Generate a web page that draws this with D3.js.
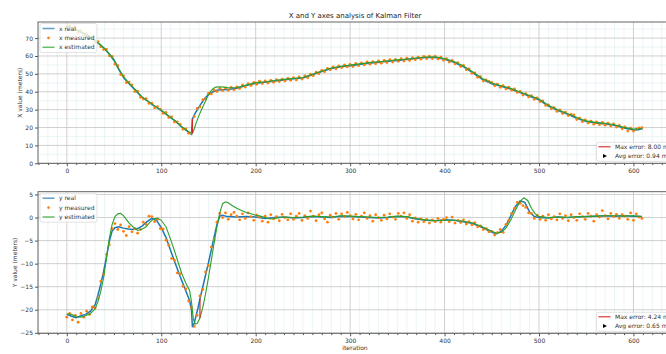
<!DOCTYPE html>
<html>
<head>
<meta charset="utf-8">
<script src="https://cdn.jsdelivr.net/npm/d3@7"></script>
<style>
  body { margin: 0; background: #fff; }
  svg { font-family: "DejaVu Sans", sans-serif; }
</style>
</head>
<body>
<div id="chart"></div>
<script>
// ---- data ----
const titleText = 'X and Y axes analysis of Kalman Filter';
const xTicks = [0, 100, 200, 300, 400, 500, 600];
const topTicks = [0, 10, 20, 30, 40, 50, 60, 70];
const bottomTicks = [-25, -20, -15, -10, -5, 0, 5];

// measured samples, one every 3 iterations
const measIter = d3.range(0, 610, 3);
const xMeas = [76.4, 77.0, 75.1, 75.6, 73.2, 74.1, 71.8, 72.3, 69.9, 70.4, 67.6, 68.0, 65.2, 63.6, 63.7, 60.1, 59.8, 55.4, 54.6, 49.6,
  48.9, 45.1, 45.4, 43.9, 40.1, 40.3, 36.9, 36.0, 36.2, 33.5, 33.6, 31.0, 31.7, 30.2, 27.9, 28.4, 25.6, 26.0, 23.1, 23.2,
  21.8, 19.1, 19.2, 16.8, 16.9, 26.1, 30.7, 31.6, 35.6, 36.0, 39.1, 38.8, 40.9, 40.1, 41.9, 40.6, 42.0, 40.8, 42.5, 41.1,
  42.7, 41.8, 43.8, 42.6, 44.5, 43.5, 45.3, 44.2, 45.9, 44.6, 46.0, 44.9, 46.4, 45.3, 46.8, 45.7, 47.1, 46.0, 47.5, 46.4,
  47.9, 46.6, 48.3, 47.1, 48.9, 47.9, 49.8, 49.0, 50.9, 50.1, 52.0, 51.2, 53.0, 52.3, 53.9, 52.8, 54.5, 53.5, 55.0, 53.9,
  55.3, 54.1, 55.8, 54.6, 56.2, 55.0, 56.7, 55.4, 56.9, 55.7, 57.3, 56.0, 57.5, 56.3, 57.9, 56.6, 58.1, 57.0, 58.5, 57.2,
  58.8, 57.5, 59.1, 57.9, 59.4, 58.2, 59.8, 58.5, 59.9, 58.6, 59.9, 58.3, 59.3, 57.6, 58.5, 56.6, 57.5, 55.6, 56.3, 54.1,
  54.7, 52.3, 52.8, 50.3, 50.6, 48.1, 48.4, 46.0, 46.6, 45.8, 45.2, 43.3, 44.3, 42.5, 43.4, 41.6, 42.6, 40.9, 41.6, 39.6,
  40.2, 38.2, 39.0, 37.1, 37.8, 35.8, 36.6, 34.5, 34.9, 32.4, 32.7, 30.5, 31.1, 29.0, 29.8, 27.8, 28.6, 26.7, 27.3, 27.1,
  24.5, 25.3, 23.3, 24.2, 22.5, 23.6, 21.9, 23.1, 21.6, 22.8, 21.3, 22.5, 20.8, 22.0, 20.3, 21.2, 19.3, 20.3, 18.0, 19.6,
  18.0, 19.2, 19.8, 20.0];
const yMeas = [-21.6, -20.8, -22.2, -21.2, -22.7, -20.8, -21.6, -20.3, -21.0, -19.4, -19.6, -17.5, -13.8, -12.3, -8.0, -5.9, -2.4, -1.3, -2.6, -1.6,
  -3.0, -3.9, -2.0, -3.1, -2.4, -3.4, -2.6, -1.0, -1.5, 0.3, 0.2, -0.9, -0.4, -2.4, -2.5, -4.9, -6.0, -8.9, -9.3, -12.0,
  -12.2, -14.9, -15.5, -18.1, -19.5, -23.6, -21.2, -17.0, -15.6, -11.8, -10.4, -6.4, -4.8, -1.0, 0.9, 0.0, 1.0, -0.4, 0.6, 1.1,
  0.3, -0.5, 0.8, -0.2, 1.0, 0.2, -0.6, 0.5, 0.1, -0.8, 0.3, -1.0, 0.6, -0.3, 0.2, -0.7, 0.7, 0.0, -0.5, 0.8,
  -0.4, 0.3, 0.9, -0.6, 0.4, -0.2, 1.4, 0.3, -0.7, 0.6, 1.0, -0.3, -1.0, 0.5, 0.1, 0.9, -0.4, 0.8, 0.2, 1.1,
  0.4, -0.3, 0.7, -0.5, 0.3, 1.0, -0.2, 0.4, -0.8, 0.6, 0.0, -0.6, 0.5, -0.3, 0.8, 0.1, -0.4, 0.9, 0.3, 1.0,
  -0.2, 0.6, -0.8, -0.1, -1.0, -0.3, -0.9, -0.4, -1.2, -0.5, -0.9, -0.2, -1.0, -0.4, 0.0, -0.9, 0.1, -1.2, -0.6, -1.1,
  -0.5, -1.4, -0.9, -1.6, -1.1, -2.0, -1.8, -2.6, -2.4, -3.1, -3.0, -3.8, -3.3, -2.6, -3.2, -1.5, -0.6, 0.9, 2.0, 3.3,
  3.1, 2.6, 2.2, 1.0, 0.9, -0.2, 0.5, -0.4, 0.3, -0.6, 0.6, -0.3, 0.2, -0.5, 0.8, -0.2, 0.4, -0.7, 0.6, 0.0,
  -0.6, 0.8, 0.2, -0.4, 0.9, 0.3, -0.8, 0.6, 0.1, 1.5, 0.4, -0.3, 0.9, 0.2, 0.7, -0.2, 0.6, 0.3, -0.4, 1.0,
  -0.6, 0.8, 0.1, -0.2];

// real trajectory (key points)
const xRealIter = [0, 10, 20, 30, 35, 40, 45, 50, 55, 60, 65, 70, 75, 80, 85, 90, 95, 100, 105, 110, 115, 120, 125, 130, 132, 133, 136, 140, 145, 150,
  155, 160, 170, 180, 190, 200, 210, 220, 230, 240, 250, 260, 270, 280, 290, 300, 310, 320, 330, 340, 350, 360, 370, 380, 390, 400, 410, 420, 430, 440,
  450, 460, 470, 480, 490, 500, 510, 520, 530, 540, 550, 560, 570, 580, 590, 600, 605, 610];
const xReal = [77, 74.5, 72, 68.5, 66.5, 64, 61, 57.5, 52.5, 48, 45, 42.3, 39.5, 36.7, 35, 33, 31.2, 29.5, 27.5, 25.5, 23.5, 21, 19, 17, 16.2, 24.8, 28, 31.5, 35.5, 38.5,
  40, 41, 41.3, 42, 43.5, 44.8, 45.3, 46, 46.6, 47.2, 47.7, 49.5, 51.3, 53, 54, 54.6, 55.3, 56, 56.5, 57, 57.5, 58, 58.6, 59.1, 59.2, 58.2, 56.5, 54, 50.6, 47,
  44.5, 43, 41.5, 39.5, 37.5, 35.5, 32, 29.5, 27.5, 25.2, 23.3, 22.5, 22, 21.2, 19.7, 18.6, 18.8, 19.5];
const yRealIter = [0, 5, 10, 15, 20, 25, 30, 33, 36, 39, 42, 45, 48, 51, 55, 60, 65, 70, 75, 80, 85, 90, 95, 100, 105, 110, 115, 120, 125, 130,
  132, 133, 135, 137, 139, 141, 144, 147, 150, 153, 156, 159, 162, 165, 170, 180, 190, 200, 210, 220, 230, 240, 250, 260, 270, 280, 290, 300, 310, 320,
  330, 340, 350, 360, 370, 380, 390, 400, 410, 420, 430, 440, 450, 455, 460, 465, 470, 475, 480, 485, 490, 495, 500, 510, 520, 530, 540, 550, 560, 570,
  580, 590, 600, 609];
const yReal = [-21.0, -21.4, -21.7, -21.3, -21.0, -20.3, -18.9, -16.8, -14.4, -11.7, -8.5, -5.2, -2.9, -2.2, -2.0, -2.3, -2.5, -2.6, -2.4, -1.8, -0.9, -0.2, -0.6, -2.2, -4.3, -7.2, -10.0, -12.8, -15.4, -18.0,
  -20.0, -23.8, -22.8, -21.2, -19.5, -17.6, -15.0, -12.4, -9.8, -7.0, -4.2, -1.5, 0.3, 0.5, 0.2, 0.1, 0.2, 0.1, -0.2, 0.0, 0.1, -0.1, 0.0, 0.2, 0.1, 0.0, 0.3, 0.2, 0.1, 0.0,
  -0.1, 0.0, 0.2, 0.1, -0.3, -0.6, -0.7, -0.5, -0.6, -0.9, -1.3, -2.2, -3.2, -3.5, -3.0, -1.7, 0.3, 2.4, 3.6, 3.3, 1.2, 0.2, 0.0, -0.1, 0.1, 0.0, 0.1, 0.2, 0.3, 0.4,
  0.3, 0.4, 0.3, 0.2];

// filter estimate (key points)
const xEstIter = [0, 10, 20, 30, 40, 45, 50, 55, 60, 65, 70, 75, 80, 85, 90, 95, 100, 105, 110, 115, 120, 125, 130, 133, 135, 137, 140, 143, 146, 149,
  152, 155, 158, 162, 166, 170, 175, 180, 190, 200, 210, 220, 230, 240, 250, 260, 270, 280, 290, 300, 310, 320, 330, 340, 350, 360, 370, 380, 390, 400,
  410, 420, 430, 440, 450, 460, 470, 480, 490, 500, 510, 520, 530, 540, 550, 560, 570, 580, 590, 600, 605, 609];
const xEst = [77, 74.6, 72.2, 68.8, 64.2, 61.3, 58, 53, 48.5, 45.3, 42.6, 39.8, 37, 35.2, 33.2, 31.4, 29.7, 27.7, 25.7, 23.7, 21.2, 19.2, 17.3, 16.8, 19.3, 22.6, 26.8, 30.4, 33.8, 37.2,
  40.1, 41.8, 42.6, 42.8, 42.6, 42.3, 42.2, 42.4, 43.7, 45.1, 45.6, 46.3, 46.9, 47.5, 48, 49.8, 51.6, 53.3, 54.3, 54.9, 55.6, 56.3, 56.8, 57.3, 57.8, 58.3, 58.9, 59.4, 59.5, 58.6,
  56.9, 54.4, 51, 47.4, 44.9, 43.4, 41.9, 39.9, 37.9, 35.9, 32.5, 30, 27.9, 25.6, 23.7, 22.9, 22.4, 21.6, 20.1, 19.1, 19.1, 19.6];
const yEstIter = [0, 5, 10, 15, 20, 25, 30, 33, 36, 39, 42, 45, 48, 51, 54, 57, 60, 63, 66, 70, 75, 80, 84, 88, 92, 96, 100, 105, 110, 114,
  118, 122, 126, 130, 132, 134, 136, 138, 141, 144, 147, 150, 153, 156, 159, 162, 165, 168, 171, 175, 180, 185, 190, 195, 200, 205, 210, 215, 220, 230,
  240, 250, 260, 270, 280, 290, 300, 310, 320, 330, 340, 350, 360, 370, 380, 390, 400, 410, 420, 430, 440, 450, 455, 460, 465, 470, 475, 480, 484, 488,
  492, 496, 500, 510, 520, 530, 540, 550, 560, 570, 580, 590, 600, 609];
const yEst = [-20.9, -21.0, -21.5, -21.6, -21.3, -20.8, -19.8, -18.2, -16.0, -13.0, -8.8, -4.5, -1.5, 0.2, 0.8, 0.9, 0.4, -0.4, -1.2, -2.0, -2.8, -2.5, -2.0, -1.0, -0.3, -0.1, -0.6, -2.0, -4.8, -7.2,
  -9.8, -12.3, -14.2, -15.8, -18.3, -22.0, -23.1, -23.0, -21.8, -19.5, -16.5, -13.0, -9.3, -5.5, -2.0, 1.0, 3.0, 3.4, 3.2, 2.6, 2.0, 1.5, 1.1, 0.8, 0.5, 0.3, 0.0, -0.3, -0.2, 0.1,
  0.0, 0.1, 0.3, 0.2, 0.1, 0.4, 0.3, 0.2, 0.1, 0.0, 0.1, 0.3, 0.2, -0.2, -0.5, -0.7, -0.6, -0.6, -0.8, -1.2, -2.0, -3.0, -3.4, -3.2, -2.3, -0.6, 1.6, 3.5, 4.3, 3.7,
  2.0, 0.8, 0.2, 0.0, 0.1, 0.0, 0.2, 0.2, 0.3, 0.4, 0.4, 0.3, 0.4, 0.2];

// worst error segment and summary
const xMaxErr = { iter: 133, from: 16.8, to: 24.8 };
const yMaxErr = { iter: 141, from: -21.8, to: -17.6 };
const xErrLabels = ['Max error: 8.00 m', 'Avg error: 0.94 m'];
const yErrLabels = ['Max error: 4.24 m', 'Avg error: 0.65 m'];

// ---- drawing ----
const W = 666, H = 354;
const fs = 6;
const c = { real: '#1f77b4', meas: '#ff7f0e', est: '#2ca02c', err: '#d62728' };

const svg = d3.select('#chart').append('svg')
  .attr('width', W).attr('height', H);

const x = d3.scaleLinear().domain([-30.5, 640.5]).range([38, 671.7]);
const minorX = d3.range(-30, 641, 10).filter(v => v % 100 !== 0);

svg.append('text')
  .attr('x', 355).attr('y', 17.5)
  .attr('text-anchor', 'middle')
  .attr('font-size', 7).attr('fill', '#222')
  .text(titleText);

function panel(o) {
  const y = d3.scaleLinear().domain(o.domain).range([o.bottom, o.top]);
  const g = svg.append('g');

  // minor grid
  g.selectAll('.mgx').data(minorX)
    .join('line')
    .attr('x1', d => x(d)).attr('x2', d => x(d))
    .attr('y1', o.top).attr('y2', o.bottom)
    .attr('stroke', '#ddeff0').attr('stroke-width', 0.6);
  if (o.minorY) {
    g.selectAll('.mgy').data(o.minorY)
      .join('line')
      .attr('x1', 38).attr('x2', W)
      .attr('y1', d => y(d)).attr('y2', d => y(d))
      .attr('stroke', '#ddeff0').attr('stroke-width', 0.6);
  }
  // major grid
  g.selectAll('.gx').data(xTicks).join('line')
    .attr('x1', d => x(d)).attr('x2', d => x(d))
    .attr('y1', o.top).attr('y2', o.bottom)
    .attr('stroke', '#c4c4c4').attr('stroke-width', 0.8);
  g.selectAll('.gy').data(o.ticks).join('line')
    .attr('x1', 38).attr('x2', W)
    .attr('y1', d => y(d)).attr('y2', d => y(d))
    .attr('stroke', '#c4c4c4').attr('stroke-width', 0.8);

  // series
  const line = (xs, ys) => d3.line().x((d, i) => x(xs[i])).y(d => y(d))(ys);
  g.append('path').attr('d', line(o.realIter, o.real))
    .attr('fill', 'none').attr('stroke', c.real).attr('stroke-width', 1.5);
  g.selectAll('.m').data(o.meas).join('circle')
    .attr('cx', (d, i) => x(measIter[i])).attr('cy', d => y(d))
    .attr('r', 1.4).attr('fill', c.meas);
  g.append('path').attr('d', line(o.estIter, o.est))
    .attr('fill', 'none').attr('stroke', c.est).attr('stroke-width', 1.1);
  g.append('line')
    .attr('x1', x(o.maxErr.iter)).attr('x2', x(o.maxErr.iter))
    .attr('y1', y(o.maxErr.from)).attr('y2', y(o.maxErr.to))
    .attr('stroke', c.err).attr('stroke-width', 1.2);

  // frame
  g.append('rect')
    .attr('x', 38).attr('y', o.top).attr('width', 671.7 - 38).attr('height', o.bottom - o.top)
    .attr('fill', 'none').attr('stroke', '#555').attr('stroke-width', 0.9);

  // axes
  const ax = g.append('g').attr('transform', `translate(0,${o.bottom})`)
    .call(d3.axisBottom(x).tickValues(xTicks).tickSize(3).tickPadding(2));
  g.append('g').attr('transform', `translate(0,${o.bottom})`)
    .call(d3.axisBottom(x).tickValues(minorX).tickSize(1.8).tickFormat(''))
    .call(s => s.select('.domain').remove())
    .selectAll('line').attr('stroke', '#555');
  const ay = g.append('g').attr('transform', 'translate(38,0)')
    .call(d3.axisLeft(y).tickValues(o.ticks).tickSize(3).tickPadding(2).tickFormat(d => d < 0 ? '\u2212' + Math.abs(d) : d));
  [ax, ay].forEach(a => {
    a.select('.domain').remove();
    a.selectAll('line').attr('stroke', '#555');
    a.selectAll('text').attr('font-size', fs).attr('fill', '#333')
      .attr('font-family', '"DejaVu Sans", sans-serif');
  });

  svg.append('text')
    .attr('transform', `translate(${o.labelX},${(o.top + o.bottom) / 2}) rotate(-90)`)
    .attr('text-anchor', 'middle').attr('font-size', fs).attr('fill', '#333')
    .text(o.label);

  // upper-left legend
  const lg = g.append('g').attr('transform', `translate(40,${o.top + 1.5})`);
  lg.append('rect').attr('width', 57).attr('height', 29).attr('rx', 2)
    .attr('fill', 'rgba(255,255,255,0.8)').attr('stroke', '#d0d0d0').attr('stroke-width', 0.6);
  o.names.forEach((n, i) => {
    const yy = 5 + i * 9.4;
    if (i === 1) {
      lg.append('circle').attr('cx', 8.5).attr('cy', yy).attr('r', 1.3).attr('fill', c.meas);
    } else {
      lg.append('line').attr('x1', 2.5).attr('x2', 14.5).attr('y1', yy).attr('y2', yy)
        .attr('stroke', i === 0 ? c.real : c.est).attr('stroke-width', 1.5).attr('opacity', 0.7);
    }
    lg.append('text').attr('x', 19).attr('y', yy + 2.1)
      .attr('font-size', fs).attr('fill', '#333').text(n);
  });

  // lower-right legend
  const rg = g.append('g').attr('transform', `translate(596.5,${o.bottom - 21})`);
  rg.append('rect').attr('width', 90).attr('height', 19).attr('rx', 2)
    .attr('fill', 'rgba(255,255,255,0.8)').attr('stroke', '#d0d0d0').attr('stroke-width', 0.6);
  rg.append('line').attr('x1', 2).attr('x2', 14).attr('y1', 4.5).attr('y2', 4.5)
    .attr('stroke', c.err).attr('stroke-width', 1.1);
  rg.append('path').attr('d', 'M6.5,11.6 L10.5,13.6 L6.5,15.6 Z').attr('fill', '#000');
  o.errLabels.forEach((t, i) => {
    rg.append('text').attr('x', 18.5).attr('y', 6.6 + i * 9.2)
      .attr('font-size', fs).attr('fill', '#333').text(t);
  });
}

panel({
  top: 22, bottom: 163.3, domain: [0, 79], ticks: topTicks, minorY: [5, 15, 25, 35, 45, 55, 65, 75],
  realIter: xRealIter, real: xReal, meas: xMeas, estIter: xEstIter, est: xEst,
  maxErr: xMaxErr, errLabels: xErrLabels, labelX: 21.5, label: 'X value (meters)',
  names: ['x real', 'x measured', 'x estimated']
});
panel({
  top: 191.7, bottom: 333.3, domain: [-25.1, 5.6], ticks: bottomTicks,
  realIter: yRealIter, real: yReal, meas: yMeas, estIter: yEstIter, est: yEst,
  maxErr: yMaxErr, errLabels: yErrLabels, labelX: 16.5, label: 'Y value (meters)',
  names: ['y real', 'y measured', 'y estimated']
});

svg.append('text')
  .attr('x', 355).attr('y', 350)
  .attr('text-anchor', 'middle').attr('font-size', fs).attr('fill', '#333')
  .text('iteration');
</script>
</body>
</html>
